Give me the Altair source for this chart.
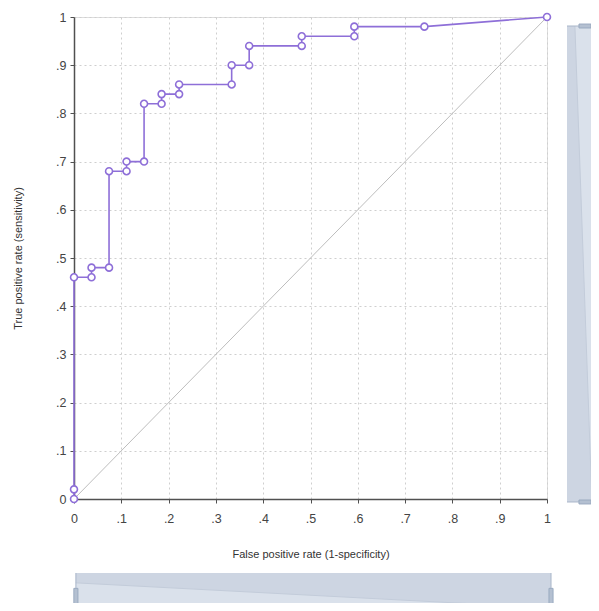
import altair as alt
import pandas as pd

# ROC curve points (false positive rate, true positive rate)
fpr = [0, 0, 0, 1/27, 1/27, 2/27, 2/27, 3/27, 3/27, 4/27, 4/27, 5/27, 5/27,
       6/27, 6/27, 9/27, 9/27, 10/27, 10/27, 13/27, 13/27, 16/27, 16/27, 20/27, 1]
tpr = [0, 0.02, 0.46, 0.46, 0.48, 0.48, 0.68, 0.68, 0.70, 0.70, 0.82, 0.82, 0.84,
       0.84, 0.86, 0.86, 0.90, 0.90, 0.94, 0.94, 0.96, 0.96, 0.98, 0.98, 1.0]
diag = [0, 1]
ticks = [0, 0.1, 0.2, 0.3, 0.4, 0.5, 0.6, 0.7, 0.8, 0.9, 1.0]

x_title = "False positive rate (1-specificity)"
y_title = "True positive rate (sensitivity)"

# data-zoom slider extents, in axis units (outside the plotted 0..1 range)
hs_x0, hs_x1 = 0.004, 1.0085          # bottom slider along x
hs_top, hs_bot = -0.1535, -0.26        # bottom slider across y
hs_sh0, hs_sh1 = -0.174, -0.226        # its data shadow line
hs_hy = -0.203                          # handle centre
vs_x0, vs_x1 = 1.0423, 1.12            # right slider across x
vs_top, vs_bot = 0.9813, -0.0062       # right slider along y
vs_sh0, vs_sh1 = 1.059, 1.095          # its data shadow line
vs_hx = 1.0803                          # handle centre

PURPLE = "#8e6fd8"
FONT = "Liberation Sans"
SL_FILL = "#dae1eb"
SL_DARK = "#cdd5e2"
SL_EDGE = "#a9b6c9"
SL_HANDLE = "#b4c0d1"

roc = pd.DataFrame({"fpr": fpr, "tpr": tpr, "i": list(range(len(fpr)))})
dg = pd.DataFrame({"a": diag, "b": diag})

lab = "datum.value == 0 ? '0' : datum.value == 1 ? '1' : '.' + format(datum.value * 10, '.0f')"

xs = alt.Scale(domain=[0, 1], nice=False, zero=False)
ys = alt.Scale(domain=[0, 1], nice=False, zero=False)

common = dict(values=ticks, labelExpr=lab, grid=True, gridDash=[2, 3],
              gridColor="#cfcfcf", domainColor="#505050", domainWidth=1.5,
              tickColor="#505050", tickSize=4, labelFontSize=12.5, labelColor="#444",
              labelFont=FONT, titleFont=FONT, titleFontSize=11, labelFlush=False,
              labelOverlap=False, titleFontWeight="normal", titleColor="#333")
x_axis = alt.Axis(title=x_title, labelPadding=9, titlePadding=24, **common)
y_axis = alt.Axis(title=y_title, labelPadding=4, titlePadding=32, **common)

# ---- sliders ----
hbox = pd.DataFrame({"x0": [hs_x0], "x1": [hs_x1], "y0": [hs_top], "y1": [hs_bot]})
hshadow = pd.DataFrame({"x": [hs_x0, hs_x1], "y": [hs_sh0, hs_sh1], "t": [hs_top, hs_top]})
hedges = pd.DataFrame({"x": [hs_x0, hs_x1], "y0": [hs_top] * 2, "y1": [hs_bot] * 2})
hhandles = pd.DataFrame({"x": [hs_x0, hs_x1], "y": [hs_hy, hs_hy]})

vbox = pd.DataFrame({"x0": [vs_x0], "x1": [vs_x1], "y0": [vs_top], "y1": [vs_bot]})
vshadow = pd.DataFrame({"y": [vs_top, vs_bot], "x": [vs_sh0, vs_sh1], "l": [vs_x0, vs_x0]})
vedges = pd.DataFrame({"y": [vs_top, vs_bot], "x0": [vs_x0] * 2, "x1": [vs_x1] * 2})
vhandles = pd.DataFrame({"x": [vs_hx, vs_hx], "y": [vs_top, vs_bot]})

X = lambda f: alt.X(f, scale=xs)
Y = lambda f: alt.Y(f, scale=ys)

hs_rect = alt.Chart(hbox).mark_rect(color=SL_FILL).encode(x=X("x0:Q"), x2="x1:Q", y=Y("y0:Q"), y2="y1:Q")
hs_area = alt.Chart(hshadow).mark_area(color=SL_DARK, opacity=1).encode(x=X("x:Q"), y=Y("y:Q"), y2="t:Q")
hs_line = alt.Chart(hshadow).mark_line(color="#c3ccda", strokeWidth=1).encode(x=X("x:Q"), y=Y("y:Q"))
hs_edge = alt.Chart(hedges).mark_rule(color=SL_EDGE, strokeWidth=1).encode(x=X("x:Q"), y=Y("y0:Q"), y2="y1:Q")
hs_handle = alt.Chart(hhandles).mark_point(
    shape="M-0.24,-1H0.24V1H-0.24Z", size=289, filled=True, fill=SL_HANDLE,
    stroke="#9aaac0", strokeWidth=1, opacity=1).encode(x=X("x:Q"), y=Y("y:Q"))

vs_rect = alt.Chart(vbox).mark_rect(color=SL_FILL).encode(x=X("x0:Q"), x2="x1:Q", y=Y("y0:Q"), y2="y1:Q")
vs_area = alt.Chart(vshadow).mark_area(orient="horizontal", color=SL_DARK, opacity=1).encode(
    y=Y("y:Q"), x=X("x:Q"), x2="l:Q")
vs_line = alt.Chart(vshadow).mark_line(color="#c3ccda", strokeWidth=1).encode(
    x=X("x:Q"), y=Y("y:Q"), order="y:Q")
vs_edge = alt.Chart(vedges).mark_rule(color=SL_EDGE, strokeWidth=1).encode(y=Y("y:Q"), x=X("x0:Q"), x2="x1:Q")
vs_handle = alt.Chart(vhandles).mark_point(
    shape="M-1,-0.33H1V0.33H-1Z", size=144, filled=True, fill=SL_HANDLE,
    stroke="#9aaac0", strokeWidth=1, opacity=1).encode(x=X("x:Q"), y=Y("y:Q"))

# ---- ROC plot ----
diag_line = alt.Chart(dg).mark_line(color="#bdbdbd", strokeWidth=1).encode(
    x=alt.X("a:Q", scale=xs, axis=x_axis),
    y=alt.Y("b:Q", scale=ys, axis=y_axis),
)
roc_line = alt.Chart(roc).mark_line(color=PURPLE, strokeWidth=1.6).encode(
    x=X("fpr:Q"), y=Y("tpr:Q"), order="i:Q")
roc_pts = alt.Chart(roc).mark_point(color=PURPLE, fill="white", filled=False,
                                    size=48, strokeWidth=1.6, opacity=1).encode(
    x=X("fpr:Q"), y=Y("tpr:Q"))

chart = alt.layer(
    diag_line,
    hs_rect, hs_area, hs_line, hs_edge, hs_handle,
    vs_rect, vs_area, vs_line, vs_edge, vs_handle,
    roc_line, roc_pts,
).properties(
    width=473, height=482,
    autosize=alt.AutoSizeParams(type="none"),
    padding={"left": 66, "top": 9, "right": 44, "bottom": 104},
).configure_view(stroke=None).configure(font=FONT)

chart.save("out.html", embed_options={"renderer": "svg", "actions": False})
